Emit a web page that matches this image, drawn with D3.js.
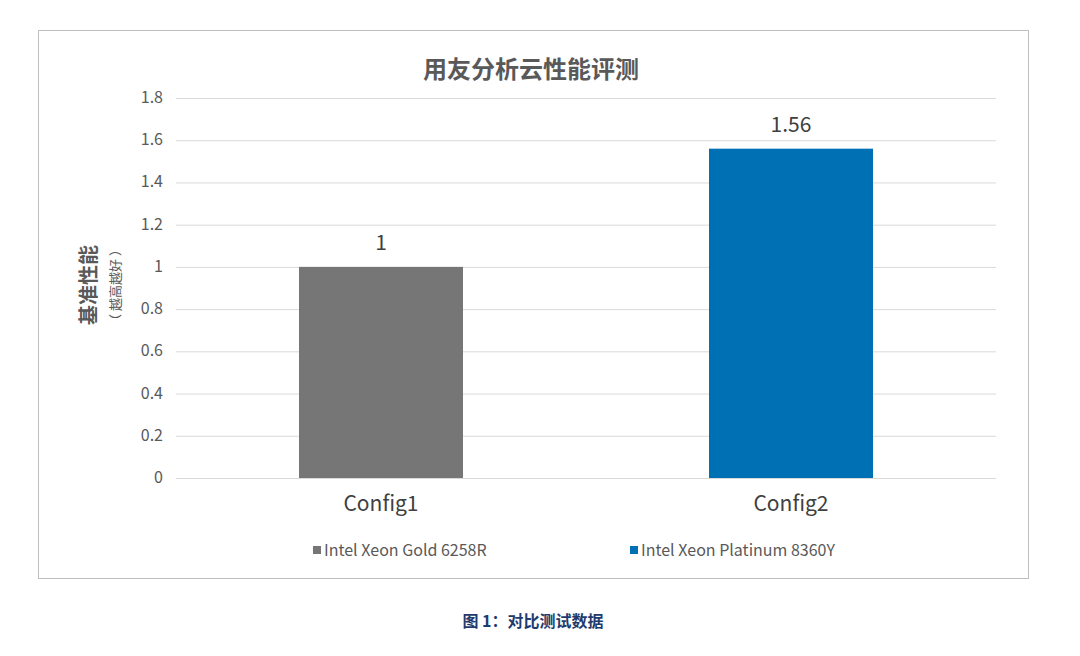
<!DOCTYPE html>
<html><head><meta charset="utf-8">
<script src="https://cdn.jsdelivr.net/npm/d3@7"></script>
<style>body{margin:0;background:#fff;font-family:"Noto Sans CJK SC","Noto Sans",sans-serif}</style>
</head><body>
<script>
var categories = ["Config1", "Config2"]
var values = [1, 1.56]
var seriesNames = ["Intel Xeon Gold 6258R", "Intel Xeon Platinum 8360Y"]
var colors = ["#767676", "#0070b4"]
var yTicks = [0, 0.2, 0.4, 0.6, 0.8, 1, 1.2, 1.4, 1.6, 1.8]

var svg = d3.select("body").append("svg").attr("width", 1080).attr("height", 656)

svg.append("rect").attr("x", 38.5).attr("y", 30.5).attr("width", 990).attr("height", 548)
  .attr("fill", "#fff").attr("stroke", "#bfbfbf")

var x = d3.scaleBand().domain(categories).range([176, 996]).paddingInner(0.6).paddingOuter(0.3)
var y = d3.scaleLinear().domain([0, 1.8]).range([478, 98])

svg.append("text").attr("x", 531).attr("y", 78).attr("text-anchor", "middle")
  .attr("font-size", 24).attr("font-weight", "bold").attr("fill", "#595959").text("用友分析云性能评测")

svg.selectAll(".grid").data(yTicks).enter().append("line")
  .attr("x1", 176).attr("x2", 996).attr("y1", function(d) { return y(d) + 0.5 }).attr("y2", function(d) { return y(d) + 0.5 })
  .attr("stroke", "#d9d9d9")

svg.selectAll(".tick").data(yTicks).enter().append("text")
  .attr("x", 163).attr("y", function(d) { return y(d) + 5 }).attr("text-anchor", "end")
  .attr("font-size", 16).attr("fill", "#595959").text(function(d) { return d })

svg.selectAll(".bar").data(values).enter().append("rect")
  .attr("x", function(d, i) { return x(categories[i]) }).attr("width", x.bandwidth())
  .attr("y", function(d) { return y(d) }).attr("height", function(d) { return y(0) - y(d) })
  .attr("fill", function(d, i) { return colors[i] })

svg.selectAll(".val").data(values).enter().append("text")
  .attr("x", function(d, i) { return x(categories[i]) + x.bandwidth() / 2 })
  .attr("y", function(d) { return y(d) - 17 }).attr("text-anchor", "middle")
  .attr("font-size", 21).attr("fill", "#404040").text(function(d) { return d })

svg.selectAll(".cat").data(categories).enter().append("text")
  .attr("x", function(d) { return x(d) + x.bandwidth() / 2 }).attr("y", 511).attr("text-anchor", "middle")
  .attr("font-size", 21).attr("fill", "#404040").text(function(d) { return d })

var lx = [313, 630]
seriesNames.forEach(function(n, i) {
  svg.append("rect").attr("x", lx[i]).attr("y", 546).attr("width", 8).attr("height", 8).attr("fill", colors[i])
  svg.append("text").attr("x", lx[i] + 11).attr("y", 556).attr("font-size", 16).attr("fill", "#595959").text(n)
})

svg.append("text").attr("transform", "translate(96,285) rotate(-90)").attr("text-anchor", "middle")
  .attr("font-size", 20).attr("font-weight", "bold").attr("fill", "#595959").text("基准性能")
svg.append("text").attr("transform", "translate(120,285) rotate(-90)").attr("text-anchor", "middle")
  .attr("font-size", 13).attr("fill", "#595959").text("（ 越高越好 ）")

svg.append("text").attr("x", 533).attr("y", 627).attr("text-anchor", "middle")
  .attr("font-size", 16).attr("font-weight", "bold").attr("fill", "#1f3b6e").text("图 1：对比测试数据")
</script>
</body></html>
